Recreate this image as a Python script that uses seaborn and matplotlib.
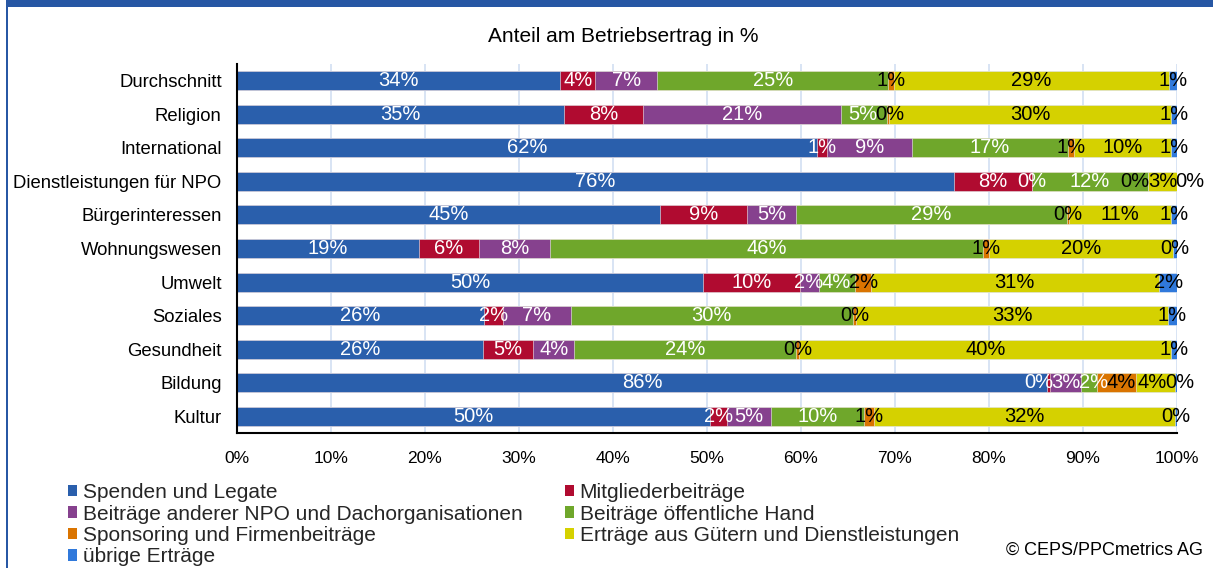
import numpy as np
import pandas as pd
import seaborn as sns
import matplotlib.pyplot as plt
from matplotlib.patches import Patch, Rectangle

# Data (share of operating income in %)
categories = ["Durchschnitt", "Religion", "International", "Dienstleistungen für NPO",
              "Bürgerinteressen", "Wohnungswesen", "Umwelt", "Soziales",
              "Gesundheit", "Bildung", "Kultur"]

series_names = ["Spenden und Legate", "Mitgliederbeiträge",
                "Beiträge anderer NPO und Dachorganisationen", "Beiträge öffentliche Hand",
                "Sponsoring und Firmenbeiträge", "Erträge aus Gütern und Dienstleistungen",
                "übrige Erträge"]

spenden = [34.4, 34.8, 61.7, 76.3, 45.0, 19.4, 49.6, 26.3, 26.2, 86.2, 50.3]
mitglieder = [3.7, 8.4, 1.1, 8.3, 9.3, 6.3, 10.3, 2.0, 5.3, 0.3, 1.8]
andere_npo = [6.6, 21.1, 9.0, 0.0, 5.2, 7.6, 2.0, 7.2, 4.4, 3.3, 4.7]
oeffentlich = [24.6, 4.9, 16.6, 12.3, 28.8, 46.1, 3.8, 30.0, 23.6, 1.7, 9.9]
sponsoring = [0.6, 0.2, 0.6, 0.0, 0.2, 0.6, 1.7, 0.4, 0.3, 4.1, 1.1]
guetern = [29.2, 30.0, 10.4, 3.1, 10.9, 19.6, 30.7, 33.1, 39.6, 4.2, 32.0]
uebrige = [0.9, 0.6, 0.6, 0.0, 0.6, 0.4, 1.9, 1.0, 0.6, 0.2, 0.2]

colors = ["#2A5FAC", "#B00B30", "#86418E", "#6FA72B", "#DA7400", "#D5D100", "#3079DB"]
label_colors = ["white", "white", "white", "white", "black", "black", "black"]

sns.set_style("white")
plt.rcParams["font.family"] = ["Liberation Sans", "DejaVu Sans"]

values = np.array([spenden, mitglieder, andere_npo, oeffentlich, sponsoring, guetern, uebrige])
ends = values.cumsum(axis=0)
starts = ends - values

W, H = 1213, 568
fig = plt.figure(figsize=(W / 100, H / 100), dpi=100)
ax = fig.add_axes([237 / W, 1 - 433 / H, 940 / W, 369 / H])

# stacked bars: draw cumulative totals from the last series back to the first
for i in reversed(range(len(series_names))):
    df = pd.DataFrame({"Kategorie": categories, "Ende": ends[i]})
    sns.barplot(data=df, x="Ende", y="Kategorie", order=categories, orient="y",
                color=colors[i], saturation=1, width=0.565, errorbar=None,
                edgecolor="#F2F2F2", linewidth=0.4, ax=ax)

ax.set_xlim(0, 100)
ax.set_ylim(len(categories) - 0.5, -0.5)
ax.set_xticks(np.arange(0, 101, 10))
ax.set_xticklabels([f"{v}%" for v in range(0, 101, 10)])
ax.set_xlabel("")
ax.set_ylabel("")
ax.set_axisbelow(True)
ax.xaxis.grid(True, color="#D6E2F3", linewidth=1.3)
ax.yaxis.grid(False)
for side in ["top", "right"]:
    ax.spines[side].set_visible(False)
for side in ["left", "bottom"]:
    ax.spines[side].set_color("black")
    ax.spines[side].set_linewidth(1.5)
ax.tick_params(axis="x", direction="out", length=5, width=1.2, color="black",
               pad=8, labelsize=12.5, labelcolor="black")
ax.tick_params(axis="y", length=0, pad=11, labelsize=13.3, labelcolor="black")

# segment labels
rows = []
for r in range(len(categories)):
    texts = []
    for i in range(len(series_names)):
        c = starts[i, r] + values[i, r] / 2
        t = ax.text(c, r, f"{values[i, r]:.0f}%", ha="center", va="center",
                    fontsize=14.5, color=label_colors[i])
        texts.append(t)
    rows.append(texts)

# push apart labels of small neighbouring segments so they do not overlap
fig.canvas.draw()
renderer = fig.canvas.get_renderer()
inv = ax.transData.inverted()
for texts in rows:
    widths = []
    for t in texts:
        bb = t.get_window_extent(renderer)
        widths.append(inv.transform((bb.x1, 0))[0] - inv.transform((bb.x0, 0))[0])
    centers = [t.get_position()[0] for t in texts]
    for _ in range(300):
        for k in range(len(centers) - 1):
            ov = (widths[k] + widths[k + 1]) / 2 * 0.95 - (centers[k + 1] - centers[k])
            if ov > 0:
                centers[k] -= ov / 2
                centers[k + 1] += ov / 2
    for t, c in zip(texts, centers):
        t.set_x(c)

# frame decoration
fig.add_artist(Rectangle((6 / W, 1 - 7 / H), 1, 7 / H, transform=fig.transFigure,
                         color="#2757A4", lw=0))
fig.add_artist(Rectangle((6 / W, 0), 2 / W, 1, transform=fig.transFigure,
                         color="#2757A4", lw=0))

fig.text(623 / W, 1 - 36 / H, "Anteil am Betriebsertrag in %", ha="center", va="center",
         fontsize=15, color="black")

order = [0, 2, 4, 6, 1, 3, 5]
handles = [Patch(facecolor=colors[i], edgecolor="none") for i in order]
fig.legend(handles, [series_names[i] for i in order], loc="upper left",
           bbox_to_anchor=(68 / W, 1 - 483 / H), ncol=2, frameon=False, fontsize=15,
           handlelength=0.45, handleheight=0.45, handletextpad=0.25,
           columnspacing=2.05, labelspacing=0.12, borderpad=0, borderaxespad=0)

fig.text(1203 / W, 1 - 550 / H, "© CEPS/PPCmetrics AG", ha="right", va="center",
         fontsize=13, color="black")

fig.savefig("out.png", dpi=100)
plt.close(fig)
